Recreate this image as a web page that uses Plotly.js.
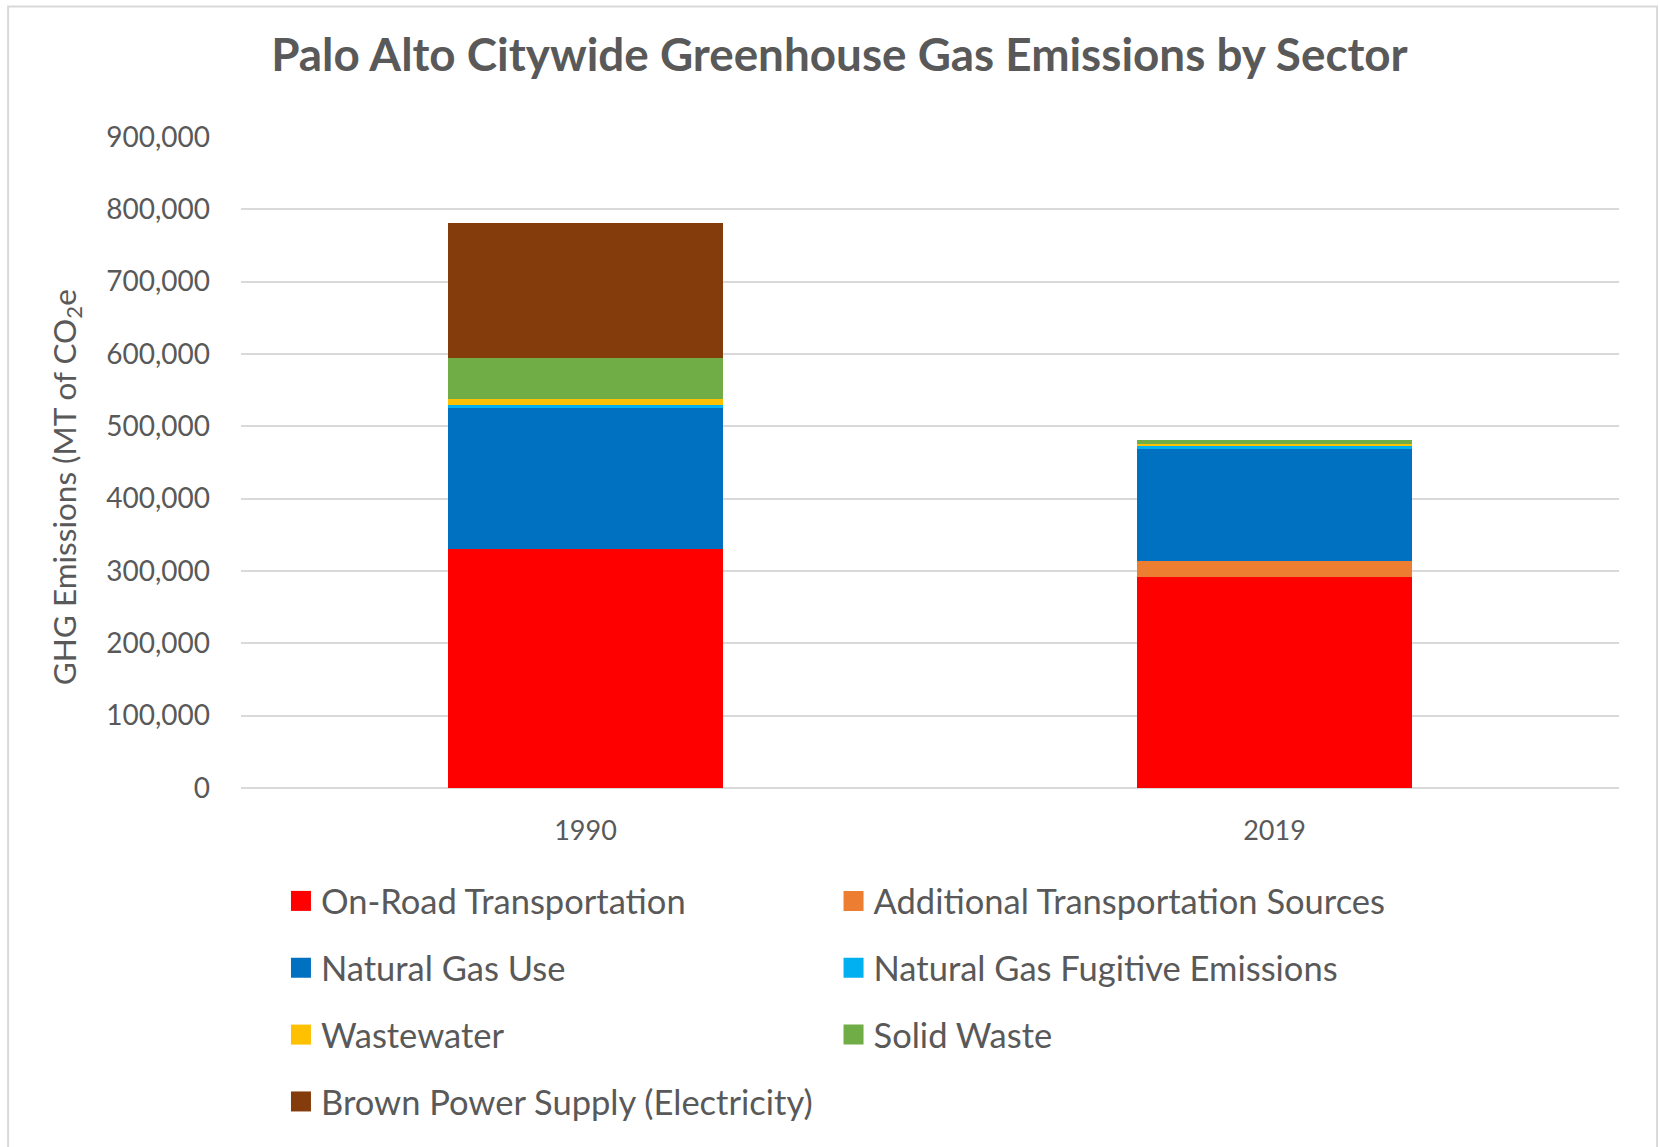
<!DOCTYPE html>
<html>
<head>
<meta charset="utf-8">
<script src="https://cdn.plot.ly/plotly-3.0.1.min.js"></script>
<style>
  html, body { margin: 0; padding: 0; background: #fff; }
  #chart { width: 1659px; height: 1147px; }
</style>
</head>
<body>
<div id="chart"></div>
<script>
// ---- data ----
const years = ['1990', '2019'];
const sectors = [
  'On-Road Transportation',
  'Additional Transportation Sources',
  'Natural Gas Use',
  'Natural Gas Fugitive Emissions',
  'Wastewater',
  'Solid Waste',
  'Brown Power Supply (Electricity)'
];
const onRoad      = [331000, 292400];
const additional  = [0, 22100];
const natGasUse   = [195000, 153800];
const natGasFug   = [4000, 4600];
const wastewater  = [7400, 3200];
const solidWaste  = [57000, 4600];
const brownPower  = [186500, 0];
const yTickVals   = [0, 100000, 200000, 300000, 400000, 500000, 600000, 700000, 800000, 900000];

const seriesValues = [onRoad, additional, natGasUse, natGasFug, wastewater, solidWaste, brownPower];
const colors = ['#FF0000', '#ED7D31', '#0070C0', '#00B0F0', '#FFC000', '#70AD47', '#843C0C'];
const legendOf = ['legend', 'legend2', 'legend', 'legend2', 'legend', 'legend2', 'legend'];

const FONT = 'Lato, "Open Sans", sans-serif';
const TXT = '#595959';

const traces = sectors.map((name, i) => ({
  type: 'bar',
  name: name,
  x: years,
  y: seriesValues[i],
  marker: { color: colors[i], line: { width: 0 } },
  legend: legendOf[i],
  legendgroup: 'g' + i,
  hovertemplate: '%{x}<br>' + name + ': %{y:,}<extra></extra>'
}));

const legendCommon = {
  orientation: 'v',
  traceorder: 'grouped',
  font: { family: FONT, size: 34.5, color: TXT },
  bgcolor: 'rgba(0,0,0,0)',
  borderwidth: 0,
  tracegroupgap: 19,
  xanchor: 'left',
  yanchor: 'top',
  y: -0.129
};

const layout = {
  width: 1659,
  height: 1147,
  margin: { l: 241, r: 40, t: 137, b: 359, autoexpand: false },
  paper_bgcolor: '#ffffff',
  plot_bgcolor: '#ffffff',
  barmode: 'stack',
  bargap: 0.6,
  title: {
    text: '<b>Palo Alto Citywide Greenhouse Gas Emissions by Sector</b>',
    font: { family: FONT, size: 45.8, color: TXT },
    x: 0.506, xref: 'container', xanchor: 'center',
    y: 0.952, yref: 'container', yanchor: 'middle'
  },
  xaxis: {
    type: 'category',
    tickfont: { family: FONT, size: 27, color: TXT },
    ticks: '',
    ticklabelstandoff: 24,
    showgrid: false,
    showline: false,
    zeroline: false
  },
  yaxis: {
    range: [0, 900000],
    tickvals: yTickVals,
    tickformat: ',',
    tickfont: { family: FONT, size: 28, color: TXT },
    ticks: '',
    ticklabelstandoff: 30,
    showgrid: true,
    gridcolor: '#D9D9D9',
    gridwidth: 2,
    zeroline: true,
    zerolinecolor: '#D9D9D9',
    zerolinewidth: 2,
    showline: false
  },
  legend: Object.assign({}, legendCommon, { x: 0.029 }),
  legend2: Object.assign({}, legendCommon, { x: 0.430 }),
  annotations: [{
    text: 'GHG Emissions (MT of CO<sub>2</sub>e',
    xref: 'paper', yref: 'paper',
    x: -0.127, y: 0.462,
    xanchor: 'center', yanchor: 'middle',
    textangle: -90,
    showarrow: false,
    font: { family: FONT, size: 31.5, color: TXT }
  }],
  shapes: [{
    type: 'rect',
    xref: 'paper', yref: 'paper',
    x0: -0.169, x1: 1.0276, y0: -0.56, y1: 1.2003,
    line: { color: '#D9D9D9', width: 2 },
    fillcolor: 'rgba(0,0,0,0)',
    layer: 'below'
  }],
  showlegend: true
};

const gd = document.getElementById('chart');

// enlarge the legend swatches to match the reference's bigger squares
function enlargeSwatches() {
  gd.querySelectorAll('.legendpoints path').forEach(p => {
    p.setAttribute('d', 'M10,10H-10V-10H10Z');
  });
}

Plotly.newPlot(gd, traces, layout, { displayModeBar: false, responsive: false })
  .then(() => {
    enlargeSwatches();
    gd.on('plotly_afterplot', enlargeSwatches);
  });
</script>
</body>
</html>
